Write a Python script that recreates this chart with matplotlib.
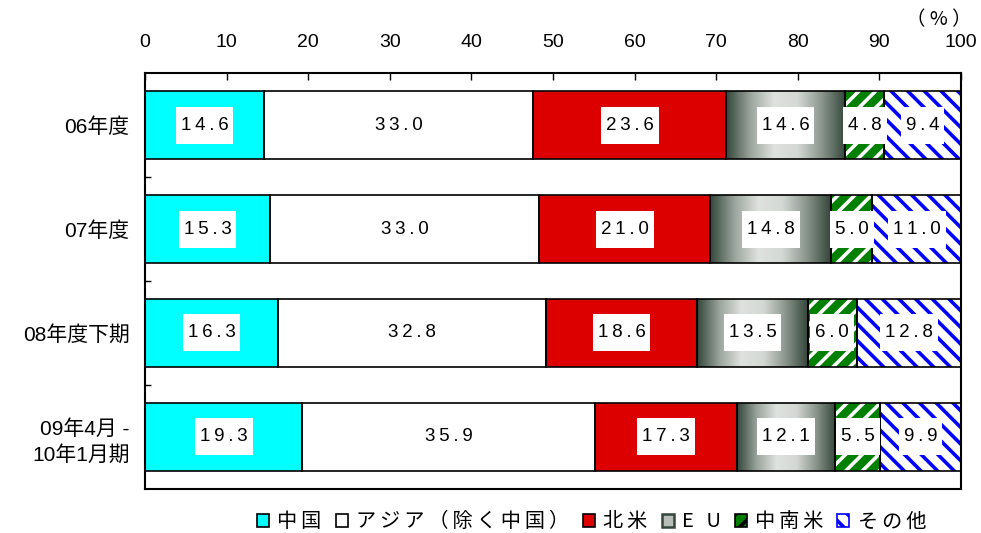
import numpy as np
import matplotlib.pyplot as plt
from matplotlib.patches import Rectangle, Patch
from matplotlib.colors import LinearSegmentedColormap

plt.rcParams['font.family'] = ['Liberation Sans', 'Noto Sans CJK JP', 'DejaVu Sans']
plt.rcParams['hatch.linewidth'] = 2.6

# shares by destination (%)
periods = ['06年度', '07年度', '08年度下期', '09年4月 -\n10年1月期']
regions = ['中国', 'アジア（除く中国）', '北米', 'E U', '中南米', 'その他']
china = [14.6, 15.3, 16.3, 19.3]
asia = [33.0, 33.0, 32.8, 35.9]
n_america = [23.6, 21.0, 18.6, 17.3]
eu = [14.6, 14.8, 13.5, 12.1]
latam = [4.8, 5.0, 6.0, 5.5]
other = [9.4, 11.0, 12.8, 9.9]
xticks = [0, 10, 20, 30, 40, 50, 60, 70, 80, 90, 100]

series = [china, asia, n_america, eu, latam, other]


def spaced(s):
    # loose letter spacing
    return '\u2009'.join(s)


fig = plt.figure(figsize=(9.81, 5.33), dpi=100)
ax = fig.add_axes([0.1478, 0.0826, 0.8318, 0.7804])

bar_h = 0.65
ypos = np.arange(len(periods))

# cylinder-like shading for the EU segment
gcmap = LinearSegmentedColormap.from_list('cyl', ['#34463a', '#9aa49c', '#dfe2df', '#d4d8d4', '#8a958c', '#34463a'])
grad = np.linspace(0, 1, 256).reshape(1, -1)

styles = [
    dict(facecolor='#00ffff'),
    dict(facecolor='white'),
    dict(facecolor='#dd0000'),
    dict(facecolor='none'),
    dict(facecolor='#008000', hatch='//', edgecolor='white'),
    dict(facecolor='white', hatch='\\\\', edgecolor='#0000ff'),
]

labels = []
left = np.zeros(len(periods))
for k, vals in enumerate(series):
    vals = np.array(vals)
    for i in range(len(periods)):
        x0, w, y0 = left[i], vals[i], ypos[i] - bar_h / 2
        st = styles[k]
        r = Rectangle((x0, y0), w, bar_h, linewidth=0, **st)
        ax.add_patch(r)
        if k == 3:
            im = ax.imshow(grad, cmap=gcmap, aspect='auto',
                           extent=(x0, x0 + w, y0 + bar_h, y0), zorder=1)
            im.set_clip_path(r)
        ax.add_patch(Rectangle((x0, y0), w, bar_h, facecolor='none',
                               edgecolor='black', linewidth=1.2, zorder=3))
        labels.append(ax.text(x0 + w / 2, ypos[i], spaced('%.1f' % vals[i]),
                              ha='center', va='center', fontsize=13.5, zorder=5))
    left += vals

ax.set_xlim(0, 100)
ax.set_ylim(len(periods) - 0.5, -0.5)

ax.xaxis.tick_top()
ax.set_xticks(xticks)
ax.tick_params(axis='x', direction='in', length=5, width=1, pad=16, labelsize=14)
ax.set_yticks(ypos)
ax.set_yticklabels(periods, fontsize=15, linespacing=1.4)
ax.tick_params(axis='y', length=0, pad=11)
ax.set_yticks([0.5, 1.5, 2.5], minor=True)
ax.tick_params(axis='y', which='minor', direction='in', length=4, width=1)
for s in ax.spines.values():
    s.set_linewidth(1.5)

fig.text(0.957, 0.963, '（ % ）', ha='center', va='center', fontsize=14,
         family=['Noto Sans CJK JP'])

# white boxes behind the value labels
fig.canvas.draw()
rend = fig.canvas.get_renderer()
inv = ax.transData.inverted()
for t in labels:
    bb = t.get_window_extent(rend)
    cx, cy = (bb.x0 + bb.x1) / 2, (bb.y0 + bb.y1) / 2
    hw, hh = bb.width / 2 + 5, 18.5
    (xa, ya), (xb, yb) = inv.transform([(cx - hw, cy - hh), (cx + hw, cy + hh)])
    ax.add_patch(Rectangle((xa, min(ya, yb)), xb - xa, abs(yb - ya),
                           facecolor='white', edgecolor='none', zorder=4))

handles = [Patch(facecolor='#00ffff', edgecolor='black', linewidth=1.2),
           Patch(facecolor='white', edgecolor='black', linewidth=1.2),
           Patch(facecolor='#dd0000', edgecolor='black', linewidth=1.2),
           Patch(facecolor='#b8bdb8', edgecolor='#34463a', linewidth=1.8),
           Patch(facecolor='#008000', hatch='//', edgecolor='black', linewidth=1.2),
           Patch(facecolor='white', hatch='\\\\', edgecolor='#0000ff', linewidth=1.2)]
fig.legend(handles, [spaced(r) for r in regions], loc='center',
           bbox_to_anchor=(0.603, 0.021), ncol=6,
           frameon=False, handlelength=0.6, handleheight=0.6,
           handletextpad=0.4, columnspacing=0.7,
           prop={'family': ['Noto Sans CJK JP', 'DejaVu Sans'], 'size': 14.5})

fig.savefig('out.png', dpi=100)
